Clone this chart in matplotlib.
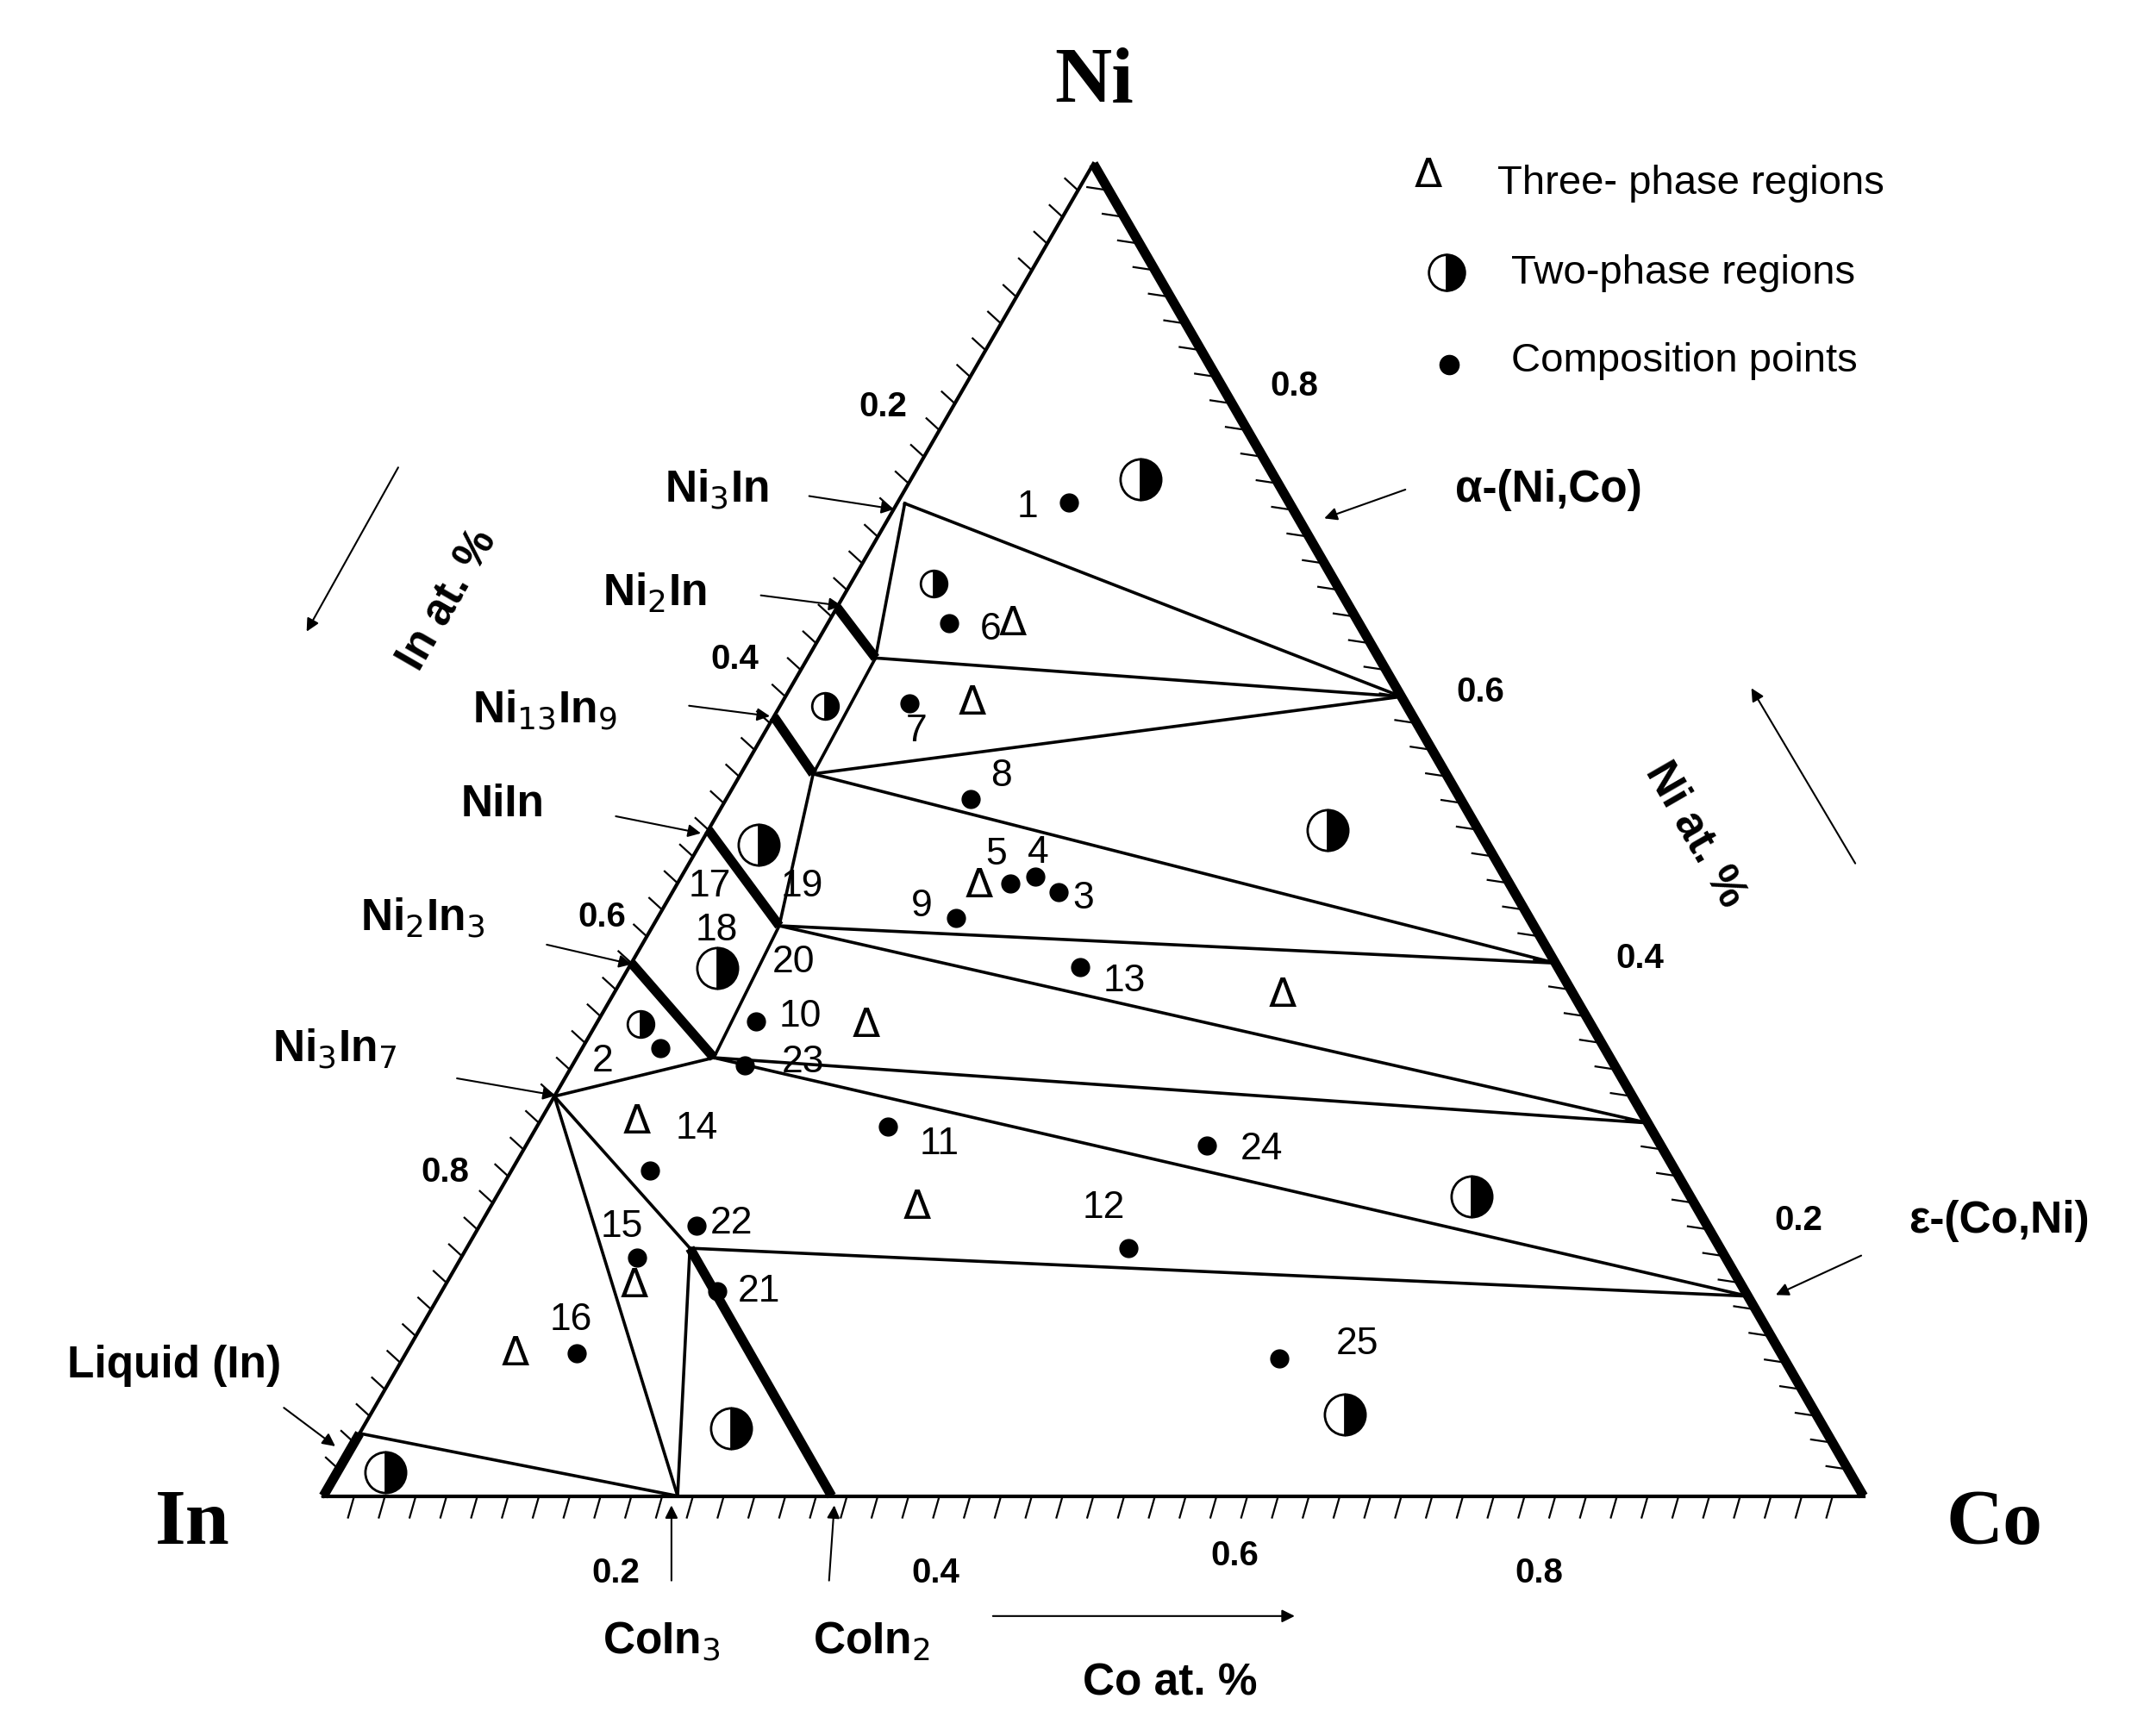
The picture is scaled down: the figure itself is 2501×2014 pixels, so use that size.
import numpy as np
import matplotlib
matplotlib.use("Agg")
import matplotlib.pyplot as plt

S3 = np.sqrt(3) / 2

# ---------------- data (Co fraction, Ni fraction) ----------------
vert_names = ["A", "B", "C", "D", "E", "F", "G", "H", "I", "J", "K", "L", "M", "N"]
vert_co = [0.005, 0.40, 0.044, 0.047, 0.60, 0.082, 0.72, 0.089, 0.85, 0.0, 0.145, 0.23, 0.33, 0.0]
vert_ni = [0.745, 0.60, 0.629, 0.542, 0.40, 0.428, 0.28, 0.329, 0.15, 0.30, 0.186, 0.0, 0.0, 0.047]
thin_lines = [("A", "B"), ("A", "C"), ("C", "B"), ("C", "D"), ("D", "B"), ("D", "E"), ("D", "F"),
              ("F", "E"), ("F", "G"), ("F", "H"), ("H", "G"), ("H", "I"), ("J", "H"), ("J", "L"),
              ("J", "K"), ("K", "I"), ("K", "L"), ("N", "L")]
thick_start_co = [0.0, 0.0, 0.0, 0.0, 0.0]
thick_start_ni = [0.667, 0.585, 0.50, 0.40, 0.0]
thick_end = ["C", "D", "F", "H", "N"]

pt_labels = ["1", "6", "7", "8", "5", "4", "3", "9", "13", "10", "23", "2", "14", "11", "24",
             "12", "22", "15", "21", "16", "25"]
pt_co = [0.111, 0.079, 0.083, 0.159, 0.216, 0.230, 0.251, 0.194, 0.293, 0.103, 0.112, 0.051,
         0.090, 0.228, 0.442, 0.430, 0.141, 0.114, 0.179, 0.111, 0.569]
pt_ni = [0.746, 0.655, 0.595, 0.523, 0.460, 0.465, 0.453, 0.434, 0.397, 0.356, 0.323, 0.336,
         0.244, 0.277, 0.263, 0.186, 0.203, 0.179, 0.154, 0.107, 0.103]
# label offsets in reference pixels
pt_dx = [-30, 30, 5, 22, -10, 2, 18, -25, 32, 32, 42, -42, 34, 37, 40, -18, 25, -11, 30, -4, 57]
pt_dy = [3, 4, 20, -17, -21, -18, 4, -9, 10, -4, -3, 9, -31, 12, 2, -30, -2, -23, 0, -25, -11]

free_labels = ["17", "19", "18", "20"]
free_co = [0.022, 0.082, 0.043, 0.105]
free_ni = [0.458, 0.458, 0.425, 0.401]

two_co = [0.149, 0.054, 0.029, 0.038, 0.402, 0.058, 0.029, 0.633, 0.239, 0.633, 0.031]
two_ni = [0.763, 0.685, 0.593, 0.489, 0.500, 0.396, 0.354, 0.225, 0.051, 0.061, 0.018]
two_big = [1, 0, 0, 1, 1, 1, 0, 1, 1, 1, 1]

tri_co = [0.120, 0.124, 0.197, 0.176, 0.435, 0.063, 0.277, 0.123, 0.071]
tri_ni = [0.655, 0.595, 0.458, 0.353, 0.376, 0.281, 0.217, 0.158, 0.107]

tick_values = [0.2, 0.4, 0.6, 0.8]


def cart(co, ni):
    return co + ni / 2, ni * S3


def d(px, py):
    return (px - 235) / 1115, (1085 - py) / 1115


fig = plt.figure(figsize=(25.01, 20.15), dpi=100)
ax = fig.add_axes([0, 0, 1, 1])
ax.set_xlim(-0.210, 1.190)
ax.set_ylim(-0.156, 0.973)
ax.axis("off")

# triangle
ax.plot([0, 1], [0, 0], color="black", lw=3)
ax.plot([0, 0.5], [0, S3], color="black", lw=3)
ax.plot([1, 0.5], [0, S3], color="black", lw=8, solid_capstyle="butt")

# ticks
L = 0.014
for t in np.arange(0.02, 1.0, 0.02):
    ax.plot([t, t - 0.004], [0, -L], color="black", lw=1.6)
    x0, y0 = t / 2, t * S3
    ax.plot([x0, x0 - L * 0.6], [y0, y0 + L * 0.55], color="black", lw=1.6)
    x1, y1 = 1 - t / 2, t * S3
    ax.plot([x1, x1 - L * 1.0], [y1, y1 + L * 0.15], color="black", lw=1.6)

lab = dict(fontsize=29, fontweight="bold", family="Liberation Sans")
for v, (px, py) in zip(tick_values, [(640, 295), (533, 478), (437, 665), (323, 850)]):
    ax.text(*d(px, py), f"{v:.1f}", ha="center", va="center", **lab)
for v, (px, py) in zip(tick_values, [(447, 1140), (678, 1140), (895, 1128), (1115, 1140)]):
    ax.text(*d(px, py), f"{v:.1f}", ha="center", va="center", **lab)
for v, (px, py) in zip(tick_values[::-1], [(938, 280), (1073, 502), (1188, 695), (1303, 885)]):
    ax.text(*d(px, py), f"{v:.1f}", ha="center", va="center", **lab)

# corner labels
ax.text(*d(793, 60), "Ni", fontsize=66, fontweight="bold", family="Liberation Serif", ha="center", va="center")
ax.text(*d(140, 1105), "In", fontsize=66, fontweight="bold", family="Liberation Serif", ha="center", va="center")
ax.text(*d(1445, 1105), "Co", fontsize=66, fontweight="bold", family="Liberation Serif", ha="center", va="center")

V = {n: cart(c, k) for n, c, k in zip(vert_names, vert_co, vert_ni)}
for a, b in thin_lines:
    ax.plot([V[a][0], V[b][0]], [V[a][1], V[b][1]], color="black", lw=2.6)
for c, k, e in zip(thick_start_co, thick_start_ni, thick_end):
    p = cart(c, k)
    ax.plot([p[0], V[e][0]], [p[1], V[e][1]], color="black", lw=8, solid_capstyle="butt")
ax.plot([V["K"][0], V["M"][0]], [V["K"][1], V["M"][1]], color="black", lw=8, solid_capstyle="butt")

# composition points
for lb, c, k, dx, dy in zip(pt_labels, pt_co, pt_ni, pt_dx, pt_dy):
    x, y = cart(c, k)
    ax.plot(x, y, "o", color="black", ms=15)
    ax.text(x + dx / 1115, y - dy / 1115, lb, fontsize=32, family="Liberation Sans",
            ha="center", va="center")
for lb, c, k in zip(free_labels, free_co, free_ni):
    x, y = cart(c, k)
    ax.text(x, y, lb, fontsize=32, family="Liberation Sans", ha="center", va="center")

for c, k, big in zip(two_co, two_ni, two_big):
    x, y = cart(c, k)
    ax.plot(x, y, "o", ms=34 if big else 22, fillstyle="right", markerfacecolor="black",
            markerfacecoloralt="white", markeredgecolor="black", markeredgewidth=2)

for c, k in zip(tri_co, tri_ni):
    x, y = cart(c, k)
    ax.text(x, y, "Δ", fontsize=34, family="DejaVu Sans", ha="center", va="center")

# phase labels with arrows
phase = [("Ni$_3$In", (520, 355), (650, 370)), ("Ni$_2$In", (475, 430), (612, 440)),
         ("Ni$_{13}$In$_9$", (395, 515), (560, 520)), ("NiIn", (365, 583), (510, 605)),
         ("Ni$_2$In$_3$", (307, 665), (460, 700)), ("Ni$_3$In$_7$", (243, 760), (405, 795)),
         ("Liquid (In)", (127, 990), (245, 1050)), ("CoIn$_3$", (480, 1190), (487, 1090)),
         ("CoIn$_2$", (632, 1190), (605, 1090)), ("α-(Ni,Co)", (1122, 355), (958, 377)),
         ("ε-(Co,Ni)", (1448, 885), (1285, 940))]
tail = {"Ni$_3$In": (585, 360), "Ni$_2$In": (550, 432), "Ni$_{13}$In$_9$": (498, 512),
        "NiIn": (445, 592), "Ni$_2$In$_3$": (395, 685), "Ni$_3$In$_7$": (330, 782),
        "Liquid (In)": (205, 1020), "CoIn$_3$": (487, 1148), "CoIn$_2$": (601, 1148),
        "α-(Ni,Co)": (1020, 355), "ε-(Co,Ni)": (1350, 910)}
for t, tp, hp in phase:
    ax.text(*d(*tp), t, fontsize=37, fontweight="bold", family="Liberation Sans", ha="center", va="center")
    ax.annotate("", xy=d(*hp), xytext=d(*tail[t]),
                arrowprops=dict(arrowstyle="-|>", color="black", lw=1.5, mutation_scale=22))

# axis titles
ax.text(*d(325, 435), "In at. %", fontsize=37, fontweight="bold", family="Liberation Sans",
        rotation=60, ha="center", va="center")
ax.annotate("", xy=d(222, 460), xytext=d(290, 338),
            arrowprops=dict(arrowstyle="-|>", color="black", lw=1.5, mutation_scale=22))
ax.text(*d(1228, 605), "Ni at. %", fontsize=37, fontweight="bold", family="Liberation Sans",
        rotation=-60, ha="center", va="center")
ax.annotate("", xy=d(1268, 498), xytext=d(1345, 628),
            arrowprops=dict(arrowstyle="-|>", color="black", lw=1.5, mutation_scale=22))
ax.text(*d(848, 1220), "Co at. %", fontsize=37, fontweight="bold", family="Liberation Sans",
        ha="center", va="center")
ax.annotate("", xy=d(940, 1172), xytext=d(718, 1172),
            arrowprops=dict(arrowstyle="-|>", color="black", lw=1.5, mutation_scale=22))

# legend
ax.text(*d(1035, 128), "Δ", fontsize=34, family="DejaVu Sans", ha="center", va="center")
ax.text(*d(1085, 133), "Three- phase regions", fontsize=34, family="Liberation Sans", ha="left", va="center")
ax.plot(*d(1048, 198), "o", ms=30, fillstyle="right", markerfacecolor="black",
        markerfacecoloralt="white", markeredgecolor="black", markeredgewidth=2)
ax.text(*d(1095, 198), "Two-phase regions", fontsize=34, family="Liberation Sans", ha="left", va="center")
ax.plot(*d(1050, 265), "o", ms=16, color="black")
ax.text(*d(1095, 262), "Composition points", fontsize=34, family="Liberation Sans", ha="left", va="center")

fig.savefig("out.png", dpi=100)
